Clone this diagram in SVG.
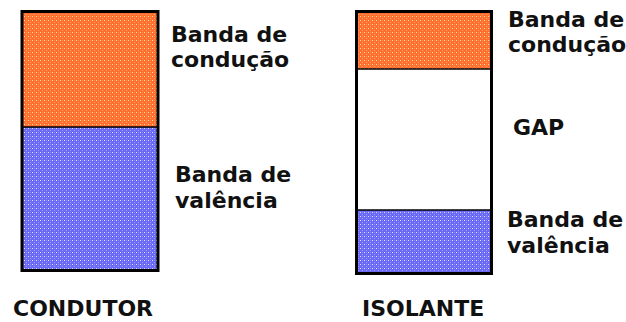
<svg xmlns="http://www.w3.org/2000/svg" width="626" height="322" viewBox="0 0 626 322">
<style>
.lbl{font-family:"DejaVu Sans","Liberation Sans",sans-serif;font-weight:bold;font-size:22px;fill:#111}
.box{fill:none;stroke:#000;stroke-width:3}
.div{stroke:#000;stroke-width:1.5}
</style>
<defs>
<pattern id="po" width="4" height="4" patternUnits="userSpaceOnUse">
<rect width="4" height="4" fill="#FF7030"/>
<rect x="0" y="0" width="1" height="1" fill="#FFE0A0"/>
<rect x="2" y="2" width="1" height="1" fill="#FFA060"/>
<rect x="2" y="0" width="1" height="1" fill="#FF8848"/>
</pattern>
<pattern id="pb" width="4" height="4" patternUnits="userSpaceOnUse">
<rect width="4" height="4" fill="#6A6AF5"/>
<rect x="0" y="0" width="1" height="1" fill="#E0E0FF"/>
<rect x="2" y="2" width="1" height="1" fill="#A0A0FF"/>
<rect x="2" y="0" width="1" height="1" fill="#8888FF"/>
</pattern>
</defs>
<rect width="626" height="322" fill="#fff"/>
<g id="condutor">
<rect x="22" y="11.5" width="136" height="115.5" fill="url(#po)"/>
<rect x="22" y="127" width="136" height="143.5" fill="url(#pb)"/>
<line class="div" x1="22" y1="127" x2="158" y2="127"/>
<rect class="box" x="22" y="11.5" width="136" height="259"/>
<text class="lbl" x="171" y="42">Banda de</text>
<text class="lbl" x="171" y="67">condução</text>
<text class="lbl" x="175" y="182">Banda de</text>
<text class="lbl" x="175" y="208">valência</text>
<text class="lbl" x="13" y="316">CONDUTOR</text>
</g>
<g id="isolante">
<rect x="356.5" y="11.5" width="135" height="57.5" fill="url(#po)"/>
<rect x="356.5" y="210" width="135" height="63.5" fill="url(#pb)"/>
<line class="div" x1="356.5" y1="69" x2="491.5" y2="69"/>
<line class="div" x1="356.5" y1="210" x2="491.5" y2="210"/>
<rect class="box" x="356.5" y="11.5" width="135" height="262"/>
<text class="lbl" x="508" y="27">Banda de</text>
<text class="lbl" x="508" y="52">condução</text>
<text class="lbl" x="513" y="135">GAP</text>
<text class="lbl" x="507" y="227">Banda de</text>
<text class="lbl" x="507" y="253">valência</text>
<text class="lbl" x="362" y="316">ISOLANTE</text>
</g>
</svg>
